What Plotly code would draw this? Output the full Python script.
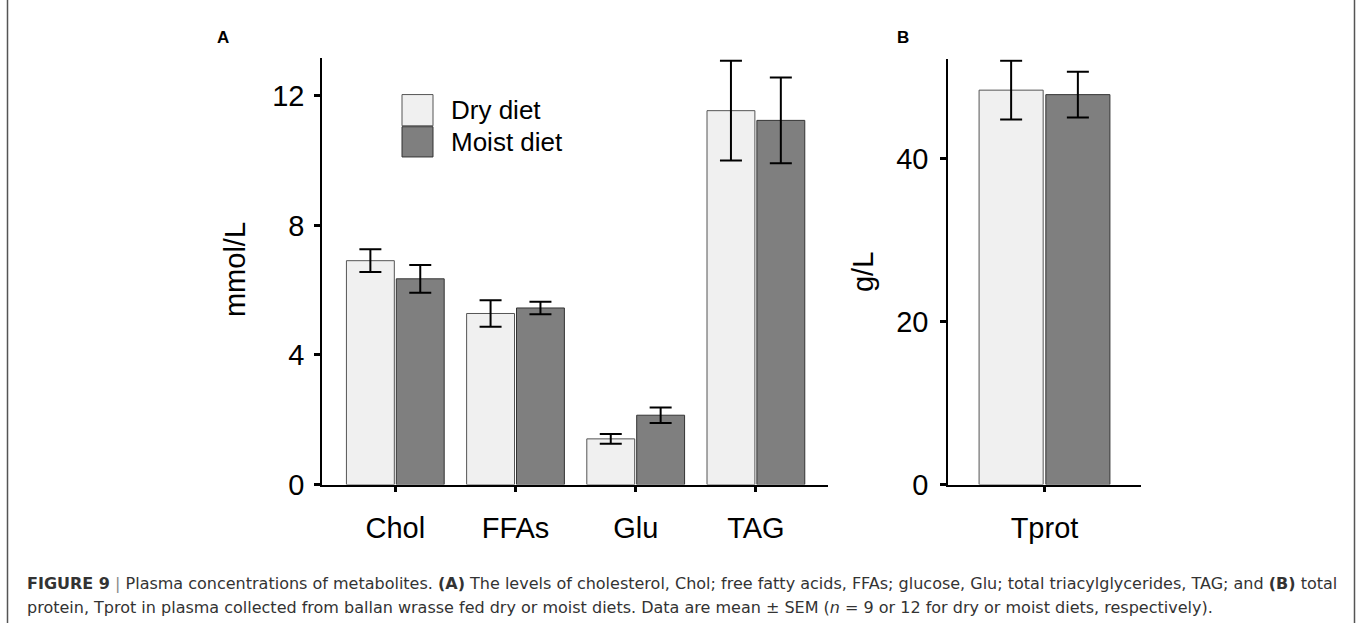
import plotly.graph_objects as go

W, H = 1360, 639

# ---- data ----
cats_a = ["Chol", "FFAs", "Glu", "TAG"]
dry_a = [6.91, 5.28, 1.41, 11.54]
dry_a_sem = [0.35, 0.41, 0.15, 1.54]
moist_a = [6.35, 5.45, 2.14, 11.24]
moist_a_sem = [0.43, 0.19, 0.24, 1.32]

cats_b = ["Tprot"]
dry_b = [48.4]
dry_b_sem = [3.6]
moist_b = [47.85]
moist_b_sem = [2.8]

yticks_a = [0, 4, 8, 12]
yticks_b = [0, 20, 40]

series_names = ["Dry diet", "Moist diet"]

DRY_FILL, DRY_LINE = "#f0f0f0", "#555555"
MOIST_FILL, MOIST_LINE = "#7f7f7f", "#333333"
FONT = "Liberation Sans, Arial, sans-serif"
CAP_FONT = "DejaVu Sans, sans-serif"


def px(x):
    return x / W


def py(y):
    return 1 - y / H


fig = go.Figure()

err_style = dict(type="data", color="black", thickness=2, width=11, visible=True)

fig.add_trace(go.Bar(x=cats_a, y=dry_a, name=series_names[0], xaxis="x", yaxis="y",
                     marker=dict(color=DRY_FILL, line=dict(color=DRY_LINE, width=1)),
                     error_y=dict(array=dry_a_sem, **err_style), showlegend=False))
fig.add_trace(go.Bar(x=cats_a, y=moist_a, name=series_names[1], xaxis="x", yaxis="y",
                     marker=dict(color=MOIST_FILL, line=dict(color=MOIST_LINE, width=1)),
                     error_y=dict(array=moist_a_sem, **err_style), showlegend=False))
fig.add_trace(go.Bar(x=cats_b, y=dry_b, name=series_names[0], xaxis="x2", yaxis="y2",
                     marker=dict(color=DRY_FILL, line=dict(color=DRY_LINE, width=1)),
                     error_y=dict(array=dry_b_sem, **err_style), showlegend=False))
fig.add_trace(go.Bar(x=cats_b, y=moist_b, name=series_names[1], xaxis="x2", yaxis="y2",
                     marker=dict(color=MOIST_FILL, line=dict(color=MOIST_LINE, width=1)),
                     error_y=dict(array=moist_b_sem, **err_style), showlegend=False))

axis_common = dict(showline=True, linecolor="black", linewidth=1.5, ticks="outside",
                   tickcolor="black", tickwidth=2.5, ticklen=6, showgrid=False, zeroline=False,
                   tickfont=dict(family=FONT, size=29, color="black"))

fig.update_layout(
    width=W, height=H, autosize=False,
    margin=dict(l=0, r=0, t=0, b=0),
    paper_bgcolor="white", plot_bgcolor="white",
    barmode="group", bargap=0.17, bargroupgap=0.04,
    xaxis=dict(domain=[px(322), px(828)], anchor="y", type="category",
               range=[-0.61, 3.6], ticklabelstandoff=11, **axis_common),
    yaxis=dict(domain=[py(497), py(60)], anchor="x", range=[0, 13.15],
               tickvals=yticks_a, ticklabelstandoff=4, **axis_common),
    xaxis2=dict(domain=[px(948), px(1141)], anchor="y2", type="category",
                range=[-0.6, 0.6], ticklabelstandoff=11, **axis_common),
    yaxis2=dict(domain=[py(497), py(60.7)], anchor="x2", range=[0, 52.2],
                tickvals=yticks_b, ticklabelstandoff=6, **axis_common),
    showlegend=False,
)

shapes = []
# manual legend boxes
shapes.append(dict(type="rect", xref="paper", yref="paper", x0=px(402), x1=px(433),
                   y0=py(129), y1=py(97), fillcolor=DRY_FILL, line=dict(color=DRY_LINE, width=1)))
shapes.append(dict(type="rect", xref="paper", yref="paper", x0=px(402), x1=px(433),
                   y0=py(161), y1=py(130), fillcolor=MOIST_FILL, line=dict(color=MOIST_LINE, width=1)))
# frame lines of the figure
shapes.append(dict(type="line", xref="paper", yref="paper", x0=px(7.5), x1=px(7.5), y0=0, y1=1,
                   line=dict(color="#555555", width=1.5)))
shapes.append(dict(type="line", xref="paper", yref="paper", x0=px(1354.5), x1=px(1354.5), y0=0, y1=1,
                   line=dict(color="#555555", width=1.5)))
fig.update_layout(shapes=shapes)

ann = []
ann.append(dict(text=series_names[0], x=px(449), y=py(113), xref="paper", yref="paper",
                xanchor="left", yanchor="middle", showarrow=False,
                font=dict(family=FONT, size=26, color="black")))
ann.append(dict(text=series_names[1], x=px(449), y=py(146), xref="paper", yref="paper",
                xanchor="left", yanchor="middle", showarrow=False,
                font=dict(family=FONT, size=26, color="black")))
ann.append(dict(text="mmol/L", x=px(235), y=py(277), xref="paper", yref="paper", textangle=-90,
                xanchor="center", yanchor="middle", showarrow=False,
                font=dict(family=FONT, size=29, color="black")))
ann.append(dict(text="g/L", x=px(863), y=py(279), xref="paper", yref="paper", textangle=-90,
                xanchor="center", yanchor="middle", showarrow=False,
                font=dict(family=FONT, size=29, color="black")))
ann.append(dict(text="<b>A</b>", x=px(223), y=py(38), xref="paper", yref="paper",
                xanchor="center", yanchor="middle", showarrow=False,
                font=dict(family=FONT, size=17, color="black")))
ann.append(dict(text="<b>B</b>", x=px(903), y=py(38), xref="paper", yref="paper",
                xanchor="center", yanchor="middle", showarrow=False,
                font=dict(family=FONT, size=17, color="black")))

cap1 = ("<b>FIGURE 9</b> <span style='color:#888'>|</span> Plasma concentrations of metabolites. "
        "<b>(A)</b> The levels of cholesterol, Chol; free fatty acids, FFAs; glucose, Glu; "
        "total triacylglycerides, TAG; and <b>(B)</b> total")
cap2 = ("protein, Tprot in plasma collected from ballan wrasse fed dry or moist diets. "
        "Data are mean ± SEM (<i>n</i> = 9 or 12 for dry or moist diets, respectively).")
ann.append(dict(text=cap1, x=px(25), y=py(598), xref="paper", yref="paper",
                xanchor="left", yanchor="middle", showarrow=False,
                font=dict(family=CAP_FONT, size=16, color="#333333")))
ann.append(dict(text=cap2, x=px(25), y=py(623), xref="paper", yref="paper",
                xanchor="left", yanchor="middle", showarrow=False,
                font=dict(family=CAP_FONT, size=16, color="#333333")))
fig.update_layout(annotations=ann)

fig.write_html(
    "out.html",
    config={"displayModeBar": False, "responsive": False},
    post_script="document.body.style.margin='0px';document.body.style.overflow='hidden';",
)
